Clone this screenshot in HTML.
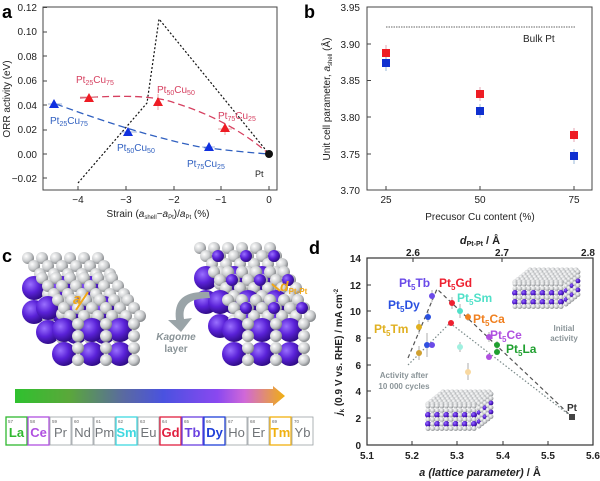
<!DOCTYPE html>
<html><head><meta charset="utf-8"><style>
body{margin:0;background:#fff}
svg{display:block;font-family:"Liberation Sans",Arial,sans-serif}
</style></head><body>
<svg id="s" width="600" height="481" viewBox="0 0 600 481" xmlns="http://www.w3.org/2000/svg">
<defs>
<radialGradient id="gp" cx="0.35" cy="0.35" r="0.7"><stop offset="0" stop-color="#9a70ff"/><stop offset="0.5" stop-color="#5a22d8"/><stop offset="1" stop-color="#2c0a80"/></radialGradient>
<radialGradient id="gg" cx="0.35" cy="0.35" r="0.7"><stop offset="0" stop-color="#ffffff"/><stop offset="0.6" stop-color="#c8cacc"/><stop offset="1" stop-color="#7d8083"/></radialGradient>
<linearGradient id="arr" x1="0" x2="1"><stop offset="0" stop-color="#2fc12f"/><stop offset="0.2" stop-color="#5aa83a"/><stop offset="0.4" stop-color="#5a6aa0"/><stop offset="0.55" stop-color="#4a52e0"/><stop offset="0.75" stop-color="#8a48f0"/><stop offset="0.85" stop-color="#d068d8"/><stop offset="1" stop-color="#f0b010"/></linearGradient>
</defs>

<!-- Panel a -->
<text x="2" y="18" font-size="18" font-weight="bold">a</text>
<rect x="43" y="7" width="234" height="183" fill="none" stroke="#444" stroke-width="1"/>
<g font-size="10" fill="#222" text-anchor="end">
<text x="37" y="11">0.12</text><text x="37" y="35">0.10</text><text x="37" y="60">0.08</text><text x="37" y="84">0.06</text><text x="37" y="109">0.04</text><text x="37" y="133">0.02</text><text x="37" y="158">0.00</text><text x="37" y="182">−0.02</text>
</g>
<g stroke="#444"><line x1="43" y1="7.5" x2="47" y2="7.5"/><line x1="43" y1="32" x2="47" y2="32"/><line x1="43" y1="56" x2="47" y2="56"/><line x1="43" y1="81" x2="47" y2="81"/><line x1="43" y1="105" x2="47" y2="105"/><line x1="43" y1="130" x2="47" y2="130"/><line x1="43" y1="154" x2="47" y2="154"/><line x1="43" y1="178" x2="47" y2="178"/>
<line x1="78" y1="190" x2="78" y2="186"/><line x1="126" y1="190" x2="126" y2="186"/><line x1="174" y1="190" x2="174" y2="186"/><line x1="221" y1="190" x2="221" y2="186"/><line x1="269" y1="190" x2="269" y2="186"/></g>
<g font-size="10" fill="#222" text-anchor="middle"><text x="78" y="203">−4</text><text x="126" y="203">−3</text><text x="174" y="203">−2</text><text x="221" y="203">−1</text><text x="269" y="203">0</text></g>
<text x="158" y="217" font-size="10" text-anchor="middle" fill="#222">Strain (<tspan font-style="italic">a</tspan><tspan font-size="6" dy="2">shell</tspan><tspan dy="-2">−</tspan><tspan font-style="italic">a</tspan><tspan font-size="6" dy="2">Pt</tspan><tspan dy="-2">)/</tspan><tspan font-style="italic">a</tspan><tspan font-size="6" dy="2">Pt</tspan><tspan dy="-2"> (%)</tspan></text>
<text transform="translate(10,99) rotate(-90)" font-size="10" text-anchor="middle" fill="#222">ORR activity (eV)</text>
<polyline points="78,183 147,103 159,19 269,154" fill="none" stroke="#111" stroke-width="1.2" stroke-dasharray="2,2"/>
<path d="M80,98 Q150,93 175,103 Q230,120 269,154" fill="none" stroke="#d64060" stroke-width="1.3" stroke-dasharray="7,4"/>
<path d="M56,104 Q140,135 200,147 Q240,152 269,154" fill="none" stroke="#3060c0" stroke-width="1.3" stroke-dasharray="7,4"/>
<g stroke="#e09090" stroke-width="0.8"><line x1="80" y1="97" x2="97" y2="97"/><line x1="158" y1="94" x2="158" y2="110"/><line x1="218" y1="129" x2="232" y2="129"/><line x1="225" y1="124" x2="225" y2="135"/></g>
<g stroke="#8aa0d0" stroke-width="0.8"><line x1="48" y1="104" x2="62" y2="104"/><line x1="121" y1="132" x2="137" y2="132"/><line x1="202" y1="147" x2="215" y2="147"/></g>
<g fill="#ee1c24"><polygon points="89,93 84,102 94,102"/><polygon points="158,97 153,106 163,106"/><polygon points="225,123 220,132 230,132"/></g>
<g fill="#1030e0"><polygon points="54,99 49,108 59,108"/><polygon points="128,127 123,136 133,136"/><polygon points="209,142 204,151 214,151"/></g>
<circle cx="269" cy="154" r="4" fill="#111"/>
<g font-size="10" fill="#d64060"><text x="76" y="83">Pt<tspan font-size="7" dy="2">25</tspan><tspan dy="-2">Cu</tspan><tspan font-size="7" dy="2">75</tspan></text><text x="157" y="93">Pt<tspan font-size="7" dy="2">50</tspan><tspan dy="-2">Cu</tspan><tspan font-size="7" dy="2">50</tspan></text><text x="218" y="119">Pt<tspan font-size="7" dy="2">75</tspan><tspan dy="-2">Cu</tspan><tspan font-size="7" dy="2">25</tspan></text></g>
<g font-size="10" fill="#3060c0"><text x="50" y="124">Pt<tspan font-size="7" dy="2">25</tspan><tspan dy="-2">Cu</tspan><tspan font-size="7" dy="2">75</tspan></text><text x="117" y="151">Pt<tspan font-size="7" dy="2">50</tspan><tspan dy="-2">Cu</tspan><tspan font-size="7" dy="2">50</tspan></text><text x="187" y="167">Pt<tspan font-size="7" dy="2">75</tspan><tspan dy="-2">Cu</tspan><tspan font-size="7" dy="2">25</tspan></text></g>
<text x="255" y="177" font-size="9" fill="#222">Pt</text>

<!-- Panel b -->
<text x="304" y="18" font-size="18" font-weight="bold">b</text>
<rect x="367" y="7" width="225" height="183" fill="none" stroke="#444"/>
<g font-size="10" fill="#222" text-anchor="end"><text x="360" y="11">3.95</text><text x="360" y="48">3.90</text><text x="360" y="84">3.85</text><text x="360" y="121">3.80</text><text x="360" y="158">3.75</text><text x="360" y="194">3.70</text></g>
<g stroke="#444"><line x1="367" y1="44" x2="371" y2="44"/><line x1="367" y1="80.5" x2="371" y2="80.5"/><line x1="367" y1="117" x2="371" y2="117"/><line x1="367" y1="154" x2="371" y2="154"/><line x1="386" y1="190" x2="386" y2="186"/><line x1="480" y1="190" x2="480" y2="186"/><line x1="574" y1="190" x2="574" y2="186"/></g>
<g font-size="10" fill="#222" text-anchor="middle"><text x="386" y="203">25</text><text x="480" y="203">50</text><text x="574" y="203">75</text><text x="480" y="220">Precusor Cu content (%)</text></g>
<text transform="translate(330,99) rotate(-90)" font-size="10" text-anchor="middle" fill="#222">Unit cell parameter, <tspan font-style="italic">a</tspan><tspan font-size="6" dy="2">shell</tspan><tspan dy="-2"> (Å)</tspan></text>
<line x1="386" y1="27" x2="575" y2="27" stroke="#666" stroke-dasharray="1.5,1"/>
<text x="523" y="42" font-size="10" fill="#222">Bulk Pt</text>
<g stroke="#e090a0" stroke-width="0.8"><line x1="386" y1="45" x2="386" y2="60"/><line x1="480" y1="87" x2="480" y2="101"/><line x1="574" y1="128" x2="574" y2="142"/></g>
<g stroke="#80a8d0" stroke-width="0.8"><line x1="386" y1="56" x2="386" y2="71"/><line x1="480" y1="104" x2="480" y2="118"/><line x1="574" y1="149" x2="574" y2="164"/></g>
<g fill="#ee1c24"><rect x="382" y="49" width="8" height="8"/><rect x="476" y="90" width="8" height="8"/><rect x="570" y="131" width="8" height="8"/></g>
<g fill="#1030d0"><rect x="382" y="59" width="8" height="8"/><rect x="476" y="107" width="8" height="8"/><rect x="570" y="152" width="8" height="8"/></g>

<!-- Panel c -->
<text x="2" y="262" font-size="18" font-weight="bold">c</text>
<g id="crys"></g>
<text x="176" y="340" font-size="10" font-weight="bold" font-style="italic" fill="#8a9498" text-anchor="middle">Kagome</text>
<text x="176" y="352" font-size="10" font-weight="bold" fill="#8a9498" text-anchor="middle">layer</text>
<path d="M209,292 Q172,290 176,320 L168,320 L181,332 L192,318 L184,319 Q180,298 210,298 Z" fill="#9aa4a8"/>
<text x="73" y="304" font-size="15" font-weight="bold" font-style="italic" fill="#f0a818">a</text>
<line x1="76" y1="310" x2="88" y2="292" stroke="#f0a818" stroke-width="2"/>
<line x1="272" y1="284" x2="280" y2="291" stroke="#f0a818" stroke-width="2"/>
<text x="280" y="291" font-size="14" font-weight="bold" font-style="italic" fill="#f0a818">d<tspan font-size="8" dy="3" font-style="normal">Pt-Pt</tspan></text>
<path d="M15,389 L273,389 L273,386 L285,396 L273,406 L273,403 L15,403 Z" fill="url(#arr)"/>
<g id="ptab"></g>

<!-- Panel d -->
<text x="309" y="254" font-size="18" font-weight="bold">d</text>
<rect x="367" y="258" width="226" height="187" fill="none" stroke="#333" stroke-width="1.2"/>
<g font-size="10" font-weight="bold" fill="#222" text-anchor="end"><text x="361" y="262">14</text><text x="361" y="289">12</text><text x="361" y="315">10</text><text x="361" y="342">8</text><text x="361" y="369">6</text><text x="361" y="395">4</text><text x="361" y="422">2</text><text x="361" y="449">0</text></g>
<g font-size="10" font-weight="bold" fill="#222" text-anchor="middle"><text x="367" y="459">5.1</text><text x="412" y="459">5.2</text><text x="457" y="459">5.3</text><text x="503" y="459">5.4</text><text x="548" y="459">5.5</text><text x="593" y="459">5.6</text>
<text x="413" y="256">2.6</text><text x="502" y="256">2.7</text><text x="588" y="256">2.8</text></g>
<text x="480" y="244" font-size="11" font-weight="bold" font-style="italic" text-anchor="middle" fill="#222">d<tspan font-size="7" dy="2" font-style="normal">Pt-Pt</tspan><tspan dy="-2" font-style="normal"> / Å</tspan></text>
<text x="480" y="476" font-size="11" font-weight="bold" text-anchor="middle" fill="#222"><tspan font-style="italic">a (lattice parameter)</tspan> / Å</text>
<text transform="translate(342,352) rotate(-90)" font-size="10" font-weight="bold" text-anchor="middle" fill="#222"><tspan font-style="italic">j</tspan><tspan font-size="6" dy="2">k</tspan><tspan dy="-2"> (0.9 V vs. RHE) / mA cm</tspan><tspan font-size="6" dy="-4">-2</tspan></text>
<g stroke="#333"><line x1="367" y1="285" x2="371" y2="285"/><line x1="367" y1="311" x2="371" y2="311"/><line x1="367" y1="338" x2="371" y2="338"/><line x1="367" y1="365" x2="371" y2="365"/><line x1="367" y1="391" x2="371" y2="391"/><line x1="367" y1="418" x2="371" y2="418"/><line x1="412" y1="445" x2="412" y2="441"/><line x1="457" y1="445" x2="457" y2="441"/><line x1="503" y1="445" x2="503" y2="441"/><line x1="548" y1="445" x2="548" y2="441"/><line x1="413" y1="258" x2="413" y2="262"/><line x1="502" y1="258" x2="502" y2="262"/></g>
<g id="cube1"></g><g id="cube2"></g>
<polyline points="408,358 437,289 572,417" fill="none" stroke="#555" stroke-width="1.2" stroke-dasharray="4,3"/>
<polyline points="408,365 450,323 572,417" fill="none" stroke="#7a8a8a" stroke-width="1.2" stroke-dasharray="1.5,2"/>
<g stroke="#999" stroke-width="0.8"><line x1="432" y1="290" x2="432" y2="302"/><line x1="428" y1="312" x2="428" y2="322"/><line x1="419" y1="320" x2="419" y2="334"/><line x1="452" y1="297" x2="452" y2="309"/><line x1="460" y1="304" x2="460" y2="318"/><line x1="468" y1="313" x2="468" y2="321"/><line x1="489" y1="332" x2="489" y2="342"/><line x1="497" y1="341" x2="497" y2="349"/><line x1="419" y1="346" x2="419" y2="360"/><line x1="427" y1="333" x2="427" y2="357"/><line x1="460" y1="342" x2="460" y2="352"/><line x1="468" y1="363" x2="468" y2="380"/></g>
<g><circle cx="432" cy="296" r="3" fill="#6a4ae8"/><circle cx="428" cy="317" r="3" fill="#2a50e0"/><circle cx="419" cy="327" r="3" fill="#e0b020"/><circle cx="452" cy="303" r="3" fill="#ee2030"/><circle cx="460" cy="311" r="3" fill="#50e0c8"/><circle cx="468" cy="317" r="3" fill="#f08020"/><circle cx="489" cy="337" r="3" fill="#b050e0"/><circle cx="497" cy="345" r="3" fill="#20a030"/>
<circle cx="419" cy="353" r="3" fill="#d0a030"/><circle cx="427" cy="345" r="3" fill="#3050e0"/><circle cx="432" cy="345" r="3" fill="#6a4ae8"/><circle cx="451" cy="323" r="3" fill="#ee2030"/><circle cx="460" cy="347" r="3" fill="#a0f0e0"/><circle cx="468" cy="372" r="3" fill="#f8d8a0"/><circle cx="489" cy="357" r="3" fill="#b050e0"/><circle cx="497" cy="352" r="3" fill="#20a030"/><rect x="569" y="414" width="6" height="6" fill="#444"/></g>
<g font-size="12" font-weight="bold">
<text x="399" y="287" fill="#6a4ae8">Pt<tspan font-size="8" dy="3">5</tspan><tspan dy="-3">Tb</tspan></text>
<text x="439" y="287" fill="#ee2030">Pt<tspan font-size="8" dy="3">5</tspan><tspan dy="-3">Gd</tspan></text>
<text x="388" y="309" fill="#2a50e0">Pt<tspan font-size="8" dy="3">5</tspan><tspan dy="-3">Dy</tspan></text>
<text x="457" y="302" fill="#50e0c8">Pt<tspan font-size="8" dy="3">5</tspan><tspan dy="-3">Sm</tspan></text>
<text x="374" y="333" fill="#e0b020">Pt<tspan font-size="8" dy="3">5</tspan><tspan dy="-3">Tm</tspan></text>
<text x="473" y="323" fill="#f08020">Pt<tspan font-size="8" dy="3">5</tspan><tspan dy="-3">Ca</tspan></text>
<text x="490" y="339" fill="#b050e0">Pt<tspan font-size="8" dy="3">5</tspan><tspan dy="-3">Ce</tspan></text>
<text x="506" y="353" fill="#20a030">Pt<tspan font-size="8" dy="3">5</tspan><tspan dy="-3">La</tspan></text>
</g>
<g font-size="8" font-weight="bold" fill="#8a9498" text-anchor="middle"><text x="404" y="378">Activity after</text><text x="404" y="389">10 000 cycles</text><text x="564" y="331">Initial</text><text x="564" y="341">activity</text></g>
<text x="567" y="411" font-size="10" font-weight="bold" fill="#333">Pt</text>
</svg>
<script>
var NS="http://www.w3.org/2000/svg";
function c(g,x,y,r,f){var e=document.createElementNS(NS,"circle");e.setAttribute("cx",x);e.setAttribute("cy",y);e.setAttribute("r",r);e.setAttribute("fill",f);g.appendChild(e);}
function slab(g,ox,oy,kag,top){
 if(top){for(var row=2;row>=0;row--)for(var i=0;i<6;i++){var x=ox+i*14-row*6+12,y=oy-row*8-2;c(g,x,y,6,"url(#gg)");}
 if(kag){for(var i=0;i<3;i++)c(g,ox+18+i*28,oy-10,6,"url(#gp)");}}
 for(var k=0;k<3;k++){var px=ox+6+k*28;c(g,px,oy+12,12,"url(#gp)");c(g,px,oy+36,12,"url(#gp)");}
 for(var k=0;k<3;k++){var gx=ox+20+k*28;for(var j=0;j<4;j++)c(g,gx,oy+6+j*12,6,"url(#gg)");}
}
var cr=document.getElementById("crys");
slab(cr,28,276,false,true);slab(cr,42,296,false,true);slab(cr,58,318,false,true);
slab(cr,200,266,true,true);slab(cr,214,290,true,true);slab(cr,228,318,true,true);
function cube(g,ox,oy){
 for(var r=5;r>=0;r--)for(var i=0;i<11;i++)c(g,ox+i*4.6+r*3,oy-r*2.4+12,2.6,"url(#gg)");
 for(var r=0;r<6;r++)for(var i=0;i<11;i++){var p=(r>=2&&r%2==0&&i%2==0);c(g,ox+i*4.6,oy+14+r*4.5,p?3:2.5,p?"url(#gp)":"url(#gg)");}
 for(var r=0;r<6;r++)for(var i=1;i<6;i++){var p=(r>=2&&r%2==0&&i%2==1);c(g,ox+48+i*3,oy+14+r*4.5-i*2.4,2.4,p?"url(#gp)":"url(#gg)");}
}
cube(document.getElementById("cube1"),515,270);
cube(document.getElementById("cube2"),428,392);
var els=[["57","La","#2fb82f"],["58","Ce","#b050e0"],["59","Pr",""],["60","Nd",""],["61","Pm",""],["62","Sm","#40d8e0"],["63","Eu",""],["64","Gd","#e02040"],["65","Tb","#6a40e0"],["66","Dy","#2040d8"],["67","Ho",""],["68","Er",""],["69","Tm","#f0b010"],["70","Yb",""]];
var pt=document.getElementById("ptab");
els.forEach(function(e,i){var x=6+i*22;var col=e[2]||"#9aa0a4";
 var r=document.createElementNS(NS,"rect");r.setAttribute("x",x);r.setAttribute("y",417);r.setAttribute("width",21);r.setAttribute("height",28);r.setAttribute("fill","#fff");r.setAttribute("stroke",col);r.setAttribute("stroke-width",e[2]?1.3:0.8);pt.appendChild(r);
 var t=document.createElementNS(NS,"text");t.setAttribute("x",x+10.5);t.setAttribute("y",437);t.setAttribute("font-size",13);t.setAttribute("text-anchor","middle");t.setAttribute("fill",e[2]||"#707478");if(e[2])t.setAttribute("font-weight","bold");t.textContent=e[1];pt.appendChild(t);
 var n=document.createElementNS(NS,"text");n.setAttribute("x",x+2);n.setAttribute("y",423);n.setAttribute("font-size",4.5);n.setAttribute("fill","#666");n.textContent=e[0];pt.appendChild(n);
});
</script>
</body></html>
